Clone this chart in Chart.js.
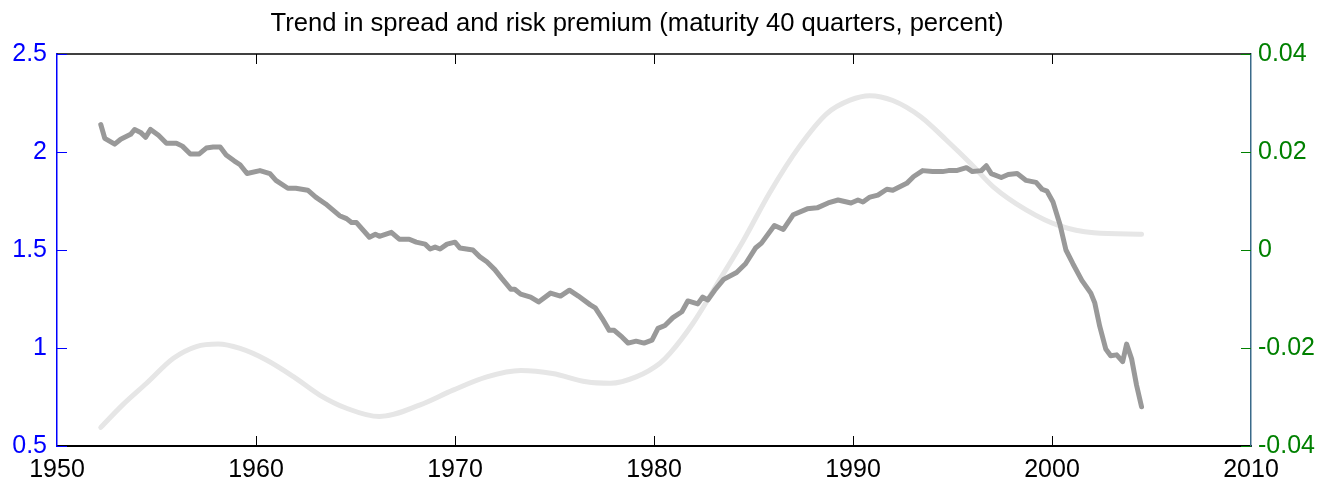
<!DOCTYPE html>
<html>
<head>
<meta charset="utf-8">
<script src="https://cdn.jsdelivr.net/npm/chart.js@4/dist/chart.umd.min.js"></script>
<style>
  html, body { margin: 0; padding: 0; background: #fff; }
  #wrap { width: 1334px; height: 487px; }
</style>
</head>
<body>
<div id="wrap"><canvas id="chart" width="1334" height="487"></canvas></div>
<script>
const chartTitle = "Trend in spread and risk premium (maturity 40 quarters, percent)";

// spread (left axis)
const spreadYears = [
  1952.2, 1952.4, 1952.9, 1953.2, 1953.7, 1953.9, 1954.2, 1954.45, 1954.7, 1955.1,
  1955.5, 1956.0, 1956.3, 1956.7, 1957.15, 1957.5, 1957.85, 1958.2, 1958.5, 1958.9,
  1959.2, 1959.55, 1960.2, 1960.7, 1961.0, 1961.6, 1962.0, 1962.6, 1963.0, 1963.5,
  1964.2, 1964.55, 1964.8, 1965.05, 1965.7, 1966.0, 1966.2, 1966.8, 1967.2, 1967.7,
  1968.05, 1968.5, 1968.75, 1969.0, 1969.25, 1969.6, 1970.0, 1970.25, 1970.9, 1971.25,
  1971.6, 1972.0, 1972.35, 1972.8, 1973.0, 1973.3, 1973.8, 1974.2, 1974.8, 1975.3,
  1975.75, 1976.2, 1976.8, 1977.05, 1977.4, 1977.75, 1978.0, 1978.4, 1978.7, 1979.1,
  1979.5, 1979.9, 1980.2, 1980.55, 1980.95, 1981.4, 1981.7, 1982.2, 1982.45, 1982.7,
  1983.05, 1983.5, 1984.15, 1984.6, 1985.1, 1985.4, 1986.05, 1986.5, 1987.0, 1987.7,
  1988.2, 1988.75, 1989.25, 1989.9, 1990.25, 1990.5, 1990.85, 1991.25, 1991.7, 1992.0,
  1992.7, 1993.05, 1993.5, 1994.0, 1994.5, 1994.8, 1995.2, 1995.7, 1996.0, 1996.45,
  1996.7, 1996.95, 1997.45, 1997.8, 1998.25, 1998.7, 1999.2, 1999.5, 1999.75, 2000.05,
  2000.4, 2000.7, 2001.05, 2001.5, 2001.95, 2002.15, 2002.4, 2002.7, 2002.95, 2003.25,
  2003.55, 2003.75, 2004.0, 2004.25, 2004.5
];
const spreadValues = [
  2.14, 2.07, 2.04, 2.065, 2.09, 2.115, 2.10, 2.075, 2.115, 2.085,
  2.045, 2.045, 2.03, 1.99, 1.99, 2.02, 2.025, 2.025, 1.985, 1.955,
  1.935, 1.89, 1.905, 1.89, 1.855, 1.815, 1.815, 1.805, 1.77, 1.735,
  1.675, 1.66, 1.64, 1.64, 1.565, 1.58, 1.57, 1.59, 1.555, 1.555,
  1.54, 1.53, 1.505, 1.515, 1.505, 1.53, 1.54, 1.51, 1.50, 1.465,
  1.44, 1.40, 1.355, 1.30, 1.30, 1.275, 1.26, 1.235, 1.28, 1.265,
  1.295, 1.265, 1.22, 1.205, 1.15, 1.09, 1.09, 1.055, 1.025, 1.035,
  1.025, 1.04, 1.10, 1.115, 1.155, 1.185, 1.24, 1.225, 1.26, 1.245,
  1.295, 1.35, 1.385, 1.43, 1.51, 1.535, 1.625, 1.605, 1.68, 1.71,
  1.715, 1.74, 1.755, 1.74, 1.755, 1.745, 1.77, 1.78, 1.81, 1.805,
  1.84, 1.875, 1.905, 1.90, 1.90, 1.905, 1.905, 1.92, 1.90, 1.905,
  1.93, 1.89, 1.87, 1.885, 1.89, 1.855, 1.845, 1.81, 1.80, 1.745,
  1.63, 1.50, 1.43, 1.345, 1.28, 1.23, 1.11, 0.995, 0.96, 0.965,
  0.93, 1.02, 0.945, 0.81, 0.70
];

// risk premium (right axis)
const premiumYears = [
  1952.2, 1953.3, 1954.5, 1955.85, 1957.0, 1958.1, 1959.2, 1960.5, 1961.9, 1963.2,
  1964.55, 1966.2, 1968.25, 1969.9, 1971.6, 1973.3, 1974.9, 1976.6, 1977.8, 1979.1,
  1980.3, 1980.8, 1981.95, 1983.3, 1984.5, 1985.8, 1987.3, 1988.7, 1989.85, 1990.85,
  1992.0, 1993.4, 1994.7, 1995.9, 1997.05, 1998.7, 2000.4, 2002.1, 2004.5
];
const premiumValues = [
  -0.0362, -0.0316, -0.0272, -0.0221, -0.0197, -0.0192, -0.0201, -0.0224, -0.0259, -0.0296,
  -0.0323, -0.0340, -0.0316, -0.0286, -0.0259, -0.0246, -0.0252, -0.0269, -0.0272, -0.0259,
  -0.0231, -0.0211, -0.0150, -0.0061, 0.0020, 0.0116, 0.0211, 0.0279, 0.0306, 0.0315,
  0.0305, 0.0272, 0.0224, 0.0177, 0.0129, 0.0082, 0.0049, 0.0035, 0.0032
];

const xTicks = [1950, 1960, 1970, 1980, 1990, 2000, 2010];
const leftTicks = [0.5, 1, 1.5, 2, 2.5];
const rightTicks = [-0.04, -0.02, 0, 0.02, 0.04];

const FONT = "'Liberation Sans', Arial, Helvetica, sans-serif";
const tickFont = { family: FONT, size: 25 };
const BLUE = "#0000ff";
const GREEN = "#008000";
const RIGHT_LINE = "#3a6a8a";

// ticks pointing into the plot, top frame line, title
const frame = {
  id: "frame",
  afterDraw(chart) {
    const ctx = chart.ctx;
    const a = chart.chartArea;
    const sx = chart.scales.x, yl = chart.scales.y, yr = chart.scales.y1;
    ctx.save();

    ctx.strokeStyle = "#000";
    ctx.lineWidth = 1.5;
    ctx.beginPath();
    ctx.moveTo(a.left, a.top);
    ctx.lineTo(a.right, a.top);
    ctx.stroke();

    ctx.lineWidth = 1;
    sx.ticks.forEach(t => {
      if (t.value === sx.min || t.value === sx.max) return;
      const px = Math.round(sx.getPixelForValue(t.value)) + 0.5;
      ctx.beginPath();
      ctx.moveTo(px, a.bottom);
      ctx.lineTo(px, a.bottom - 10);
      ctx.moveTo(px, a.top);
      ctx.lineTo(px, a.top + 10);
      ctx.stroke();
    });

    ctx.strokeStyle = BLUE;
    yl.ticks.forEach(t => {
      const py = Math.round(yl.getPixelForValue(t.value)) + 0.5;
      ctx.beginPath();
      ctx.moveTo(a.left, py);
      ctx.lineTo(a.left + 10, py);
      ctx.stroke();
    });

    ctx.strokeStyle = GREEN;
    yr.ticks.forEach(t => {
      const py = Math.round(yr.getPixelForValue(t.value)) + 0.5;
      ctx.beginPath();
      ctx.moveTo(a.right, py);
      ctx.lineTo(a.right - 10, py);
      ctx.stroke();
    });

    ctx.fillStyle = "#000";
    ctx.font = "25.6px " + FONT;
    ctx.textAlign = "center";
    ctx.textBaseline = "alphabetic";
    ctx.fillText(chartTitle, 637, 31);
    ctx.restore();
  }
};

function setTicks(list) {
  return scale => { scale.ticks = list.map(v => ({ value: v })); };
}

new Chart(document.getElementById("chart"), {
  type: "line",
  data: {
    datasets: [
      {
        label: "Spread",
        data: spreadYears.map((x, i) => ({ x: x, y: spreadValues[i] })),
        yAxisID: "y",
        borderColor: "#999999",
        borderWidth: 5,
        pointRadius: 0,
        tension: 0,
        borderJoinStyle: "round",
        borderCapStyle: "round"
      },
      {
        label: "Risk premium",
        data: premiumYears.map((x, i) => ({ x: x, y: premiumValues[i] })),
        yAxisID: "y1",
        borderColor: "#e6e6e6",
        borderWidth: 5,
        pointRadius: 0,
        cubicInterpolationMode: "monotone",
        borderCapStyle: "round"
      }
    ]
  },
  options: {
    responsive: false,
    animation: false,
    layout: { padding: { top: 54, left: 0, right: 0, bottom: 0 } },
    plugins: { legend: { display: false }, tooltip: { enabled: false }, title: { display: false } },
    scales: {
      x: {
        type: "linear",
        min: 1950,
        max: 2010,
        afterBuildTicks: setTicks(xTicks),
        afterFit: s => { s.height = 41; },
        ticks: { callback: v => String(v), font: tickFont, color: "#000", padding: 9, maxRotation: 0, autoSkip: false },
        grid: { display: false, drawTicks: false },
        border: { display: true, color: "#000", width: 2 }
      },
      y: {
        position: "left",
        min: 0.5,
        max: 2.5,
        afterBuildTicks: setTicks(leftTicks),
        afterFit: s => { s.width = 57; },
        ticks: { callback: v => String(v), font: tickFont, color: BLUE, padding: 10, autoSkip: false },
        grid: { display: false, drawTicks: false },
        border: { display: true, color: BLUE, width: 1.5 }
      },
      y1: {
        position: "right",
        min: -0.04,
        max: 0.04,
        afterBuildTicks: setTicks(rightTicks),
        afterFit: s => { s.width = 83; },
        ticks: { callback: v => String(v), font: tickFont, color: GREEN, padding: 7, autoSkip: false },
        grid: { display: false, drawTicks: false },
        border: { display: true, color: RIGHT_LINE, width: 1.5 }
      }
    }
  },
  plugins: [frame]
});
</script>
</body>
</html>
